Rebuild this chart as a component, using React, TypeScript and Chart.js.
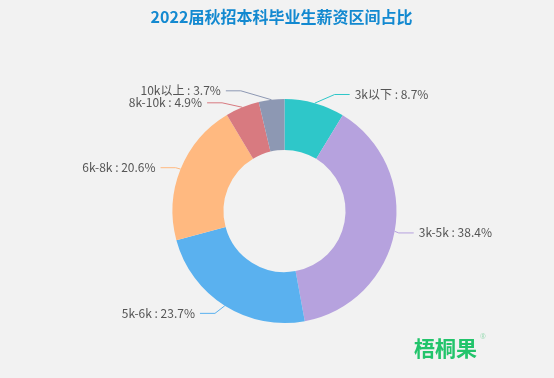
import React, { useEffect, useRef } from 'react';
import { Chart, registerables } from 'chart.js';

Chart.register(...registerables);

const TITLE = '2022届秋招本科毕业生薪资区间占比';
const WATERMARK = '梧桐果';
const categories = ['3k以下', '3k-5k', '5k-6k', '6k-8k', '8k-10k', '10k以上'];
const shares = [8.7, 38.4, 23.7, 20.6, 4.9, 3.7];
const sliceColors = ['#2ec7c9', '#b6a2de', '#5ab1ef', '#ffb980', '#d87a80', '#8d98b3'];

const BG = '#f2f2f2';
const LEN1 = 9;
const LEN2 = 15;
const DIST = 5;
const LABEL_H = 12;
const LABEL_FONT = '12px "Noto Sans CJK SC", "Noto Sans", sans-serif';

type Item = {
  cx: number; cy: number; r: number; dir: number;
  x: number; y: number; height: number;
  points: number[][]; text: string; color: string;
};

function adjustSingleSide(list: Item[], cx: number, cy: number, r: number, dir: number, viewHeight: number) {
  list.sort((a, b) => a.y - b.y);
  function shiftUp(end: number, delta: number) {
    for (let j = end; j >= 0; j--) {
      if (list[j].y - delta < cy - r) break;
      list[j].y -= delta;
      if (j > 0 && list[j].y > list[j - 1].y + list[j - 1].height) break;
    }
  }
  function shiftDown(start: number, end: number, delta: number) {
    for (let j = start; j < end; j++) {
      if (list[j].y + delta > cy + r) break;
      list[j].y += delta;
      if (j > start && j + 1 < end && list[j + 1].y > list[j].y + list[j].height) {
        shiftUp(j, delta / 2);
        return;
      }
    }
    shiftUp(end - 1, delta / 2);
  }
  function changeX(arr: Item[], isDown: boolean) {
    let lastDeltaX = isDown ? Number.MAX_VALUE : 0;
    for (let i = 0; i < arr.length; i++) {
      const deltaY = Math.abs(arr[i].y - cy);
      const R = r + LEN1 + LEN2;
      let deltaX = deltaY < r + LEN1 ? Math.sqrt(R * R - deltaY * deltaY) : Math.abs(arr[i].x - cx);
      if (isDown && deltaX >= lastDeltaX) deltaX = lastDeltaX - 10;
      if (!isDown && deltaX <= lastDeltaX) deltaX = lastDeltaX + 10;
      arr[i].x = cx + deltaX * dir;
      lastDeltaX = deltaX;
    }
  }
  let lastY = 0;
  const len = list.length;
  for (let i = 0; i < len; i++) {
    const delta = list[i].y - lastY;
    if (delta < 0) shiftDown(i, len, -delta);
    lastY = list[i].y + list[i].height;
  }
  if (viewHeight - lastY < 0) shiftUp(len - 1, lastY - viewHeight);
  const up: Item[] = [];
  const down: Item[] = [];
  for (const it of list) (it.y >= cy ? down : up).push(it);
  changeX(up, false);
  changeX(down, true);
}

const bgPlugin = {
  id: 'bgFill',
  beforeDraw(chart: any) {
    const { ctx, width, height } = chart;
    ctx.save();
    ctx.fillStyle = BG;
    ctx.fillRect(0, 0, width, height);
    ctx.restore();
  },
};

const decorPlugin = {
  id: 'decor',
  afterDraw(chart: any) {
    const ctx = chart.ctx;
    ctx.save();
    ctx.fillStyle = '#1389d0';
    ctx.font = 'bold 16px "Noto Sans CJK SC", sans-serif';
    ctx.textAlign = 'center';
    ctx.textBaseline = 'middle';
    ctx.fillText(TITLE, 281.5, 17);
    ctx.fillStyle = '#22c46b';
    ctx.font = 'bold 21px "Noto Sans CJK SC", sans-serif';
    ctx.textAlign = 'left';
    ctx.fillText(WATERMARK, 414, 348);
    ctx.fillStyle = '#9fdcb7';
    ctx.font = '7px "Noto Sans", sans-serif';
    ctx.fillText('®', 480, 337);
    ctx.restore();
  },
};

const labelPlugin = {
  id: 'pieLabels',
  afterDatasetsDraw(chart: any) {
    const meta = chart.getDatasetMeta(0);
    const ctx = chart.ctx;
    const total = shares.reduce((a, b) => a + b, 0);
    const items: Item[] = meta.data.map((arc: any, i: number) => {
      const p = arc.getProps(['x', 'y', 'startAngle', 'endAngle', 'outerRadius'], true);
      const mid = (p.startAngle + p.endAngle) / 2;
      const dx = Math.cos(mid);
      const dy = Math.sin(mid);
      const x1 = p.x + p.outerRadius * dx;
      const y1 = p.y + p.outerRadius * dy;
      const x2 = x1 + dx * LEN1;
      const y2 = y1 + dy * LEN1;
      const dir = dx < 0 ? -1 : 1;
      const x3 = x2 + dir * LEN2;
      return {
        cx: p.x, cy: p.y, r: p.outerRadius, dir,
        x: x3 + dir * DIST, y: y2, height: LABEL_H,
        points: [[x1, y1], [x2, y2], [x3, y2]],
        text: `${categories[i]} : ${((shares[i] / total) * 100).toFixed(1)}%`,
        color: sliceColors[i],
      };
    });
    if (!items.length) return;
    const { cx, cy, r } = items[0];
    const left = items.filter((it) => it.x < cx);
    const right = items.filter((it) => it.x >= cx);
    adjustSingleSide(right, cx, cy, r, 1, chart.height);
    adjustSingleSide(left, cx, cy, r, -1, chart.height);
    ctx.save();
    ctx.font = LABEL_FONT;
    ctx.textBaseline = 'middle';
    for (const it of items) {
      const pts = it.points;
      const dist = pts[1][0] - pts[2][0];
      pts[2][0] = it.x < cx ? it.x + DIST : it.x - DIST;
      pts[1][0] = pts[2][0] + dist;
      pts[1][1] = pts[2][1] = it.y;
      ctx.strokeStyle = it.color;
      ctx.lineWidth = 1;
      ctx.beginPath();
      ctx.moveTo(pts[0][0], pts[0][1]);
      ctx.lineTo(pts[1][0], pts[1][1]);
      ctx.lineTo(pts[2][0], pts[2][1]);
      ctx.stroke();
      ctx.fillStyle = '#555555';
      ctx.textAlign = it.x < cx ? 'right' : 'left';
      ctx.fillText(it.text, it.x, it.y);
    }
    ctx.restore();
  },
};

export default function App() {
  const ref = useRef<HTMLCanvasElement | null>(null);
  useEffect(() => {
    if (!ref.current) return;
    const chart = new Chart(ref.current, {
      type: 'doughnut',
      data: {
        labels: categories,
        datasets: [
          {
            data: shares,
            backgroundColor: sliceColors,
            borderWidth: 0,
            hoverOffset: 0,
          },
        ],
      },
      options: {
        responsive: false,
        animation: false,
        cutout: '54.5%',
        layout: { padding: { top: 99, bottom: 55, left: 60, right: 45 } },
        plugins: {
          legend: { display: false },
          tooltip: { enabled: false },
          title: { display: false },
        },
      },
      plugins: [bgPlugin, labelPlugin, decorPlugin],
    });
    return () => chart.destroy();
  }, []);
  return (
    <div style={{ position: 'fixed', left: 0, top: 0, width: 554, height: 378, background: BG }}>
      <canvas ref={ref} width={554} height={378} style={{ display: 'block', width: 554, height: 378 }} />
    </div>
  );
}
